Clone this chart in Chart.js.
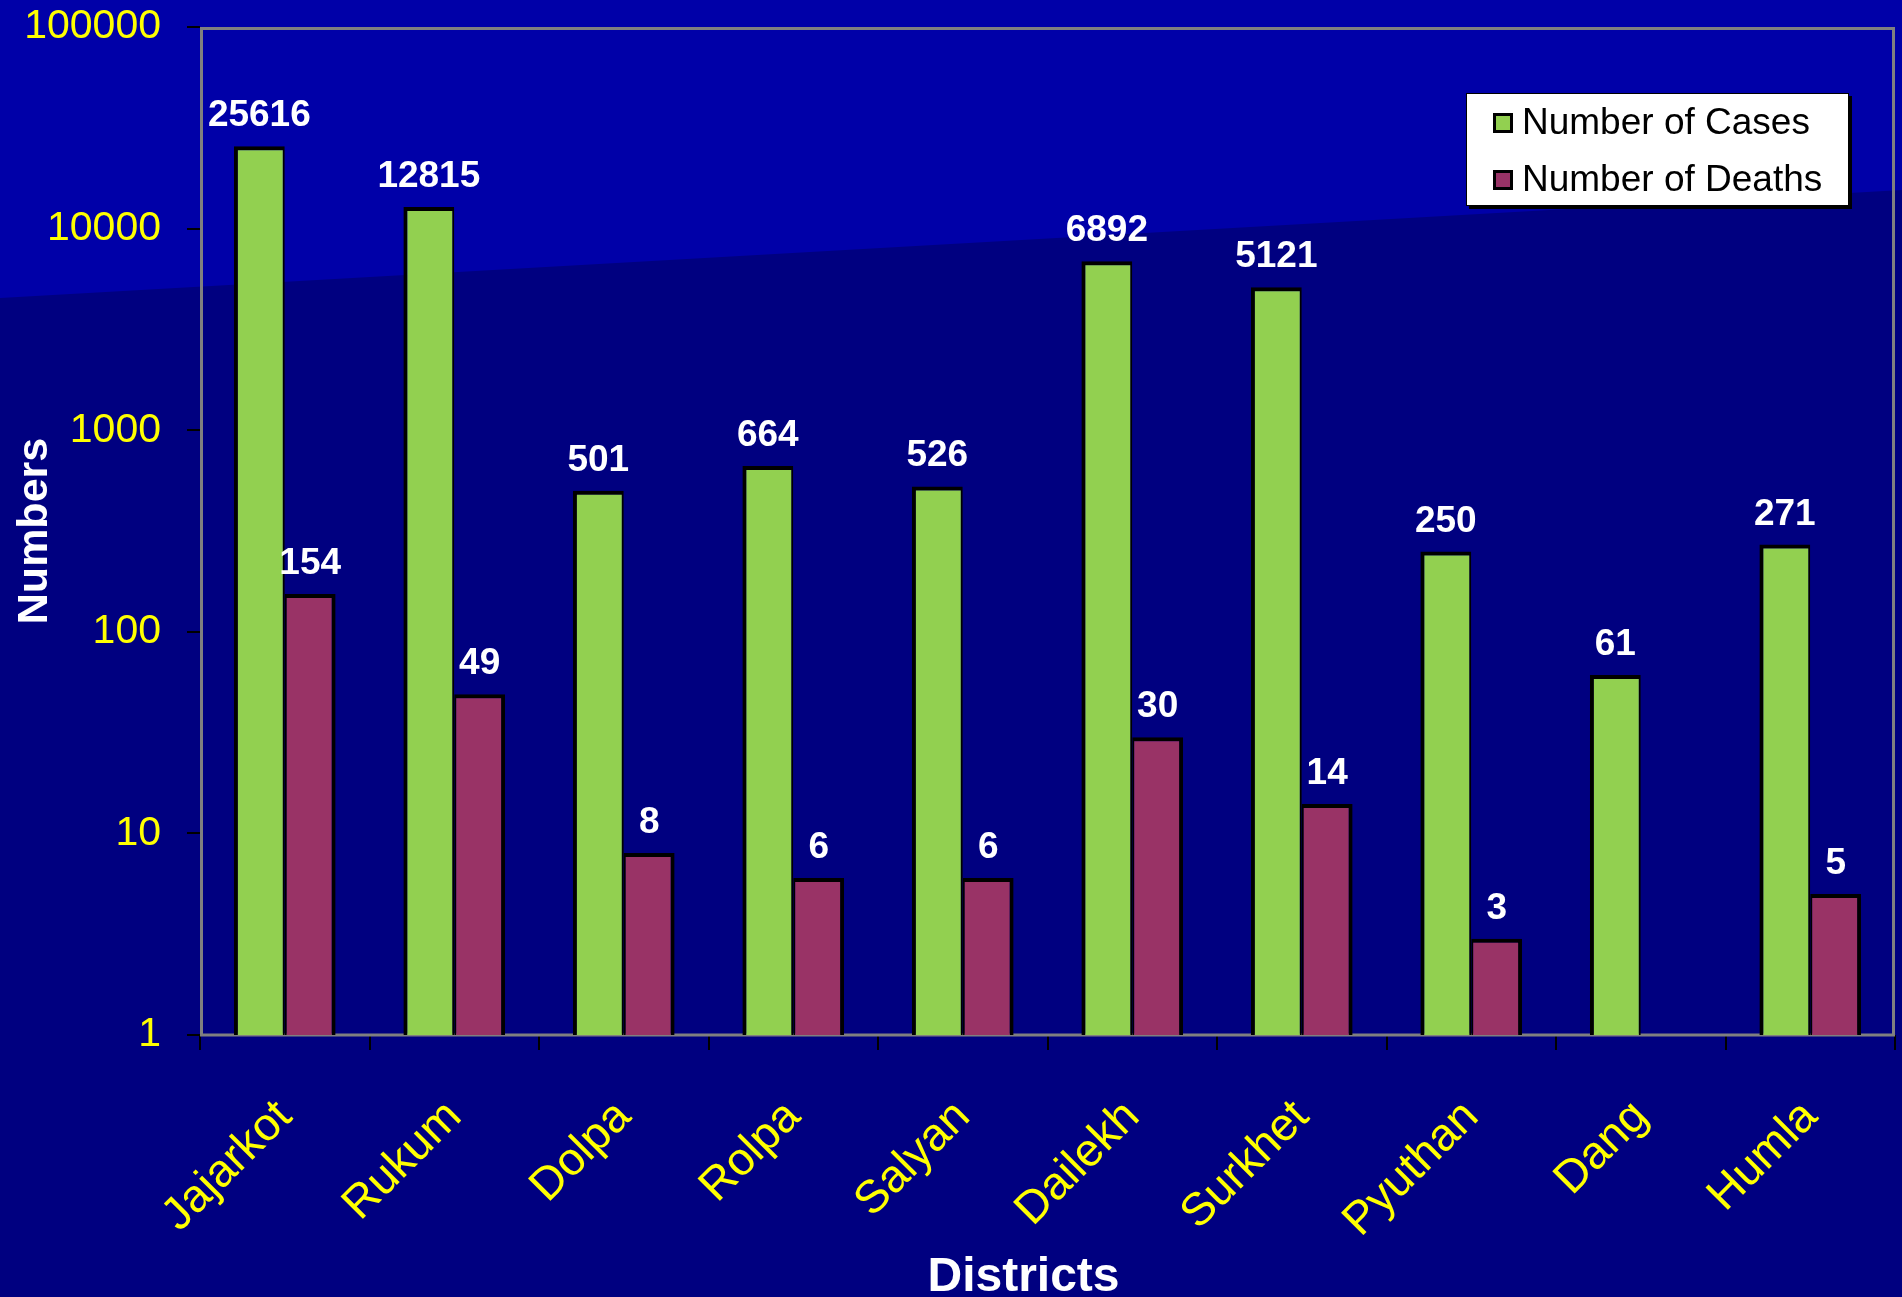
<!DOCTYPE html>
<html>
<head>
<meta charset="utf-8">
<script src="https://cdn.jsdelivr.net/npm/chart.js@4.4.0/dist/chart.umd.min.js"></script>
<style>
  html, body { margin: 0; padding: 0; background: #000080; overflow: hidden; }
  canvas { display: block; }
</style>
</head>
<body>
<canvas id="chart" width="1902" height="1297"></canvas>
<script>
const districts = ['Jajarkot', 'Rukum', 'Dolpa', 'Rolpa', 'Salyan', 'Dailekh', 'Surkhet', 'Pyuthan', 'Dang', 'Humla'];
const cases = [25616, 12815, 501, 664, 526, 6892, 5121, 250, 61, 271];
const deaths = [154, 49, 8, 6, 6, 30, 14, 3, null, 5];
const yTicks = [1, 10, 100, 1000, 10000, 100000];
const xTitle = 'Districts';

const FONT = "'Liberation Sans', Arial, Helvetica, sans-serif";
const GREEN = 'rgb(146, 208, 80)';
const MAROON = 'rgb(153, 51, 102)';

// slide-style two tone background
const backdrop = {
  id: 'backdrop',
  beforeDraw(chart) {
    const { ctx, width, height } = chart;
    ctx.save();
    ctx.fillStyle = '#000080';
    ctx.fillRect(0, 0, width, height);
    ctx.fillStyle = '#0000A8';
    ctx.beginPath();
    ctx.moveTo(0, 0);
    ctx.lineTo(width, 0);
    ctx.lineTo(width, 190);
    ctx.lineTo(0, 298);
    ctx.closePath();
    ctx.fill();
    ctx.restore();
  }
};

// gray frame round the plot area
const frame = {
  id: 'frame',
  beforeDatasetsDraw(chart) {
    const { ctx, chartArea: a } = chart;
    ctx.save();
    ctx.strokeStyle = '#808080';
    ctx.lineWidth = 3;
    ctx.strokeRect(a.left + 1.5, a.top + 1.5, a.right - a.left - 3, a.bottom - a.top - 1.5);
    ctx.restore();
  }
};

// value labels above bars + x axis title (sits a bit left of centre in the original)
const valueLabels = {
  id: 'valueLabels',
  afterDatasetsDraw(chart) {
    const { ctx, chartArea: a } = chart;
    ctx.save();
    ctx.fillStyle = '#ffffff';
    ctx.font = 'bold 37px ' + FONT;
    ctx.textAlign = 'center';
    ctx.textBaseline = 'alphabetic';
    chart.data.datasets.forEach((ds, i) => {
      chart.getDatasetMeta(i).data.forEach((bar, j) => {
        const v = ds.data[j];
        if (v == null) return;
        ctx.fillText(String(v), bar.x, bar.y - 20);
      });
    });
    ctx.font = 'bold 48px ' + FONT;
    ctx.fillText(xTitle, (a.left + a.right) / 2 - 24, 1291);
    ctx.restore();
  }
};

// boxed legend inside the plot, like the original
const boxLegend = {
  id: 'boxLegend',
  afterDraw(chart) {
    const { ctx, chartArea: a } = chart;
    const bw = 383, bh = 113;
    const bx = a.right - 46 - bw, by = a.top + 66;
    ctx.save();
    ctx.fillStyle = '#000';
    ctx.fillRect(bx + 3, by + 3, bw, bh);
    ctx.fillStyle = '#fff';
    ctx.fillRect(bx, by, bw, bh);
    ctx.strokeStyle = '#000';
    ctx.lineWidth = 1;
    ctx.strokeRect(bx + 0.5, by + 0.5, bw - 1, bh - 1);
    ctx.font = '37px ' + FONT;
    ctx.textBaseline = 'middle';
    ctx.textAlign = 'left';
    chart.data.datasets.forEach((ds, i) => {
      const cy = by + 30 + i * 57;
      ctx.fillStyle = '#000';
      ctx.fillRect(bx + 27, cy - 10, 20, 20);
      ctx.fillStyle = ds.backgroundColor;
      ctx.fillRect(bx + 30, cy - 7, 14, 14);
      ctx.fillStyle = '#000';
      ctx.fillText(ds.label, bx + 56, cy + 1);
    });
    ctx.restore();
  }
};

const cfg = {
  type: 'bar',
  data: {
    labels: districts,
    datasets: [
      {
        label: 'Number of Cases',
        data: cases,
        backgroundColor: GREEN,
        borderColor: '#000',
        borderWidth: { top: 4, left: 4, right: 2, bottom: 0 },
        borderSkipped: false,
        barPercentage: 1,
        categoryPercentage: 0.6
      },
      {
        label: 'Number of Deaths',
        data: deaths,
        backgroundColor: MAROON,
        borderColor: '#000',
        borderWidth: { top: 4, left: 2, right: 4, bottom: 0 },
        borderSkipped: false,
        barPercentage: 1,
        categoryPercentage: 0.6
      }
    ]
  },
  options: {
    responsive: false,
    animation: false,
    devicePixelRatio: 1,
    layout: { padding: { top: 27, right: 7, left: 0, bottom: 0 } },
    plugins: { legend: { display: false }, tooltip: { enabled: false } },
    scales: {
      x: {
        afterFit: s => { s.height = 262; },
        border: { display: false },
        grid: { drawOnChartArea: false, color: '#000', lineWidth: 2, tickLength: 15, offset: true },
        ticks: {
          color: '#FFFF00', font: { size: 46, family: FONT },
          minRotation: 45, maxRotation: 45, autoSkip: false, padding: 40
        },
        title: { display: false }
      },
      y: {
        type: 'logarithmic',
        min: 1,
        max: 100000,
        afterBuildTicks: s => { s.ticks = yTicks.map(v => ({ value: v })); },
        afterFit: s => { s.width = 200; s.paddingTop = 0; s.paddingBottom = 0; },
        border: { display: false },
        grid: { drawOnChartArea: false, color: '#000', lineWidth: 2, tickLength: 13 },
        ticks: {
          color: '#FFFF00', font: { size: 41, family: FONT }, padding: 26,
          callback: v => String(v)
        },
        title: {
          display: true, text: 'Numbers', color: '#fff',
          font: { size: 43, weight: 'bold', family: FONT, lineHeight: 1 },
          padding: { top: 14, bottom: 0 }
        }
      }
    }
  },
  plugins: [backdrop, frame, valueLabels, boxLegend]
};

const canvas = document.getElementById('chart');
const chart = new Chart(canvas.getContext('2d'), cfg);
</script>
</body>
</html>
